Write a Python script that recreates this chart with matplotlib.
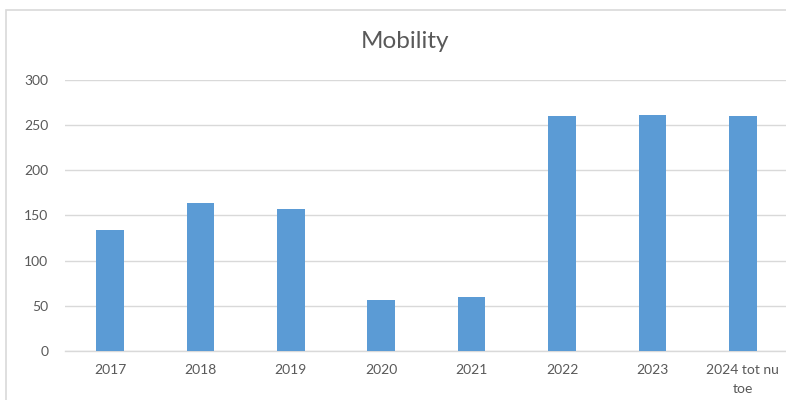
import matplotlib
matplotlib.use("Agg")
import matplotlib.pyplot as plt
from matplotlib.patches import Rectangle

categories = ["2017", "2018", "2019", "2020", "2021", "2022", "2023", "2024 tot nu\ntoe"]
values = [134, 164, 157, 56, 60, 260, 261, 260]
yticks = [0, 50, 100, 150, 200, 250, 300]
title = "Mobility"

W, H = 786, 400
fig = plt.figure(figsize=(W / 100, H / 100), dpi=100)
fig.patch.set_facecolor("white")

# chart-area border
fig.patches.append(Rectangle((6 / W, -0.05), 1.1, 1 - 10 / H + 0.05, transform=fig.transFigure,
                             fill=False, edgecolor="#d9d9d9", linewidth=1.2))

left, right = 64.8 / W, 788 / W
bottom, top = 1 - 351 / H, 1 - 80 / H
ax = fig.add_axes([left, bottom, right - left, top - bottom])

x = list(range(len(categories)))
ax.bar(x, values, width=0.305, color="#5b9bd5", zorder=3)
ax.set_xlim(-0.5, len(categories) - 0.5)
ax.set_ylim(0, 300)
ax.set_yticks(yticks)
ax.set_xticks(x)
ax.set_xticklabels(categories, fontfamily="Lato", fontsize=10, color="#595959", linespacing=1.75)
ax.set_yticklabels([str(v) for v in yticks], fontfamily="Lato", fontsize=10, color="#595959")
ax.tick_params(axis="both", length=0)
ax.tick_params(axis="y", pad=12)
ax.tick_params(axis="x", pad=9)
ax.grid(axis="y", color="#d9d9d9", linewidth=1, zorder=0)
for s in ["top", "right", "left"]:
    ax.spines[s].set_visible(False)
ax.spines["bottom"].set_color("#d9d9d9")
ax.spines["bottom"].set_linewidth(1)

fig.text(405 / W, 1 - 42 / H, title, ha="center", va="center", fontfamily="Lato",
         fontsize=17.5, color="#595959")

fig.savefig("out.png", dpi=100)
